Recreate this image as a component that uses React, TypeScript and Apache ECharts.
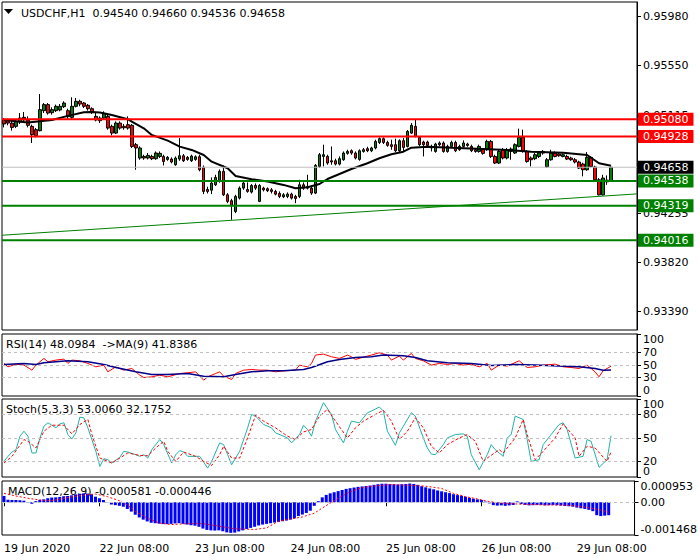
import React, { useEffect, useRef } from "react";
import * as echarts from "echarts";

const FONT = "DejaVu Sans";

// ---------- header texts ----------
const symbolName = "USDCHF,H1";
const lastOHLC = ["0.94540", "0.94660", "0.94536", "0.94658"];
const rsiTitle = "RSI(14) 48.0984\u00a0\u00a0->MA(9) 41.8386";
const stochTitle = "Stoch(5,3,3) 53.0060 32.1752";
const macdTitle = "MACD(12,26,9) -0.000581 -0.000446";

// ---------- time axis ----------
const barCount = 153;
const emptySlots = 6;
const tickBars = [0, 24, 48, 72, 96, 120, 144];
const tickLabels = ["19 Jun 2020", "22 Jun 08:00", "23 Jun 08:00", "24 Jun 08:00", "25 Jun 08:00", "26 Jun 08:00", "29 Jun 08:00"];

// ---------- price axis ----------
const priceMin = 0.93229;
const priceMax = 0.96109;
// 0.94685 sits under the last-price box in the reference, so it is not drawn
const priceTicks = [0.9339, 0.9382, 0.94255, 0.95115, 0.9555, 0.9598];

// ---------- levels ----------
const resistanceLevels = [0.9508, 0.94928];
const supportLevels = [0.94538, 0.94319, 0.94016];
const lastPrice = 0.94658;
const trendLine = [0.94061, 0.94424];

// ---------- OHLC (H1) ----------
const openP = [
  .95076, .95067, .95046, .95017, .95055, .95096, .95073, .95017, .94988, .94979,
  .95155, .95208, .95137, .95155, .95161, .95190, .95155, .95096, .95193, .95237,
  .95222, .95202, .95172, .95105, .95067, .95090, .95105, .95017, .94958, .95046,
  .95017, .95032, .95026, .94856, .94739, .94753, .94739, .94753, .94733, .94753,
  .94753, .94727, .94730, .94680, .94730, .94759, .94745, .94715, .94727, .94750,
  .94657, .94463, .94457, .94504, .94534, .94622, .94416, .94364, .94270, .94387,
  .94475, .94463, .94440, .94498, .94358, .94475, .94469, .94460, .94446, .94428,
  .94399, .94402, .94422, .94402, .94402, .94504, .94475, .94475, .94431, .94665,
  .94753, .94753, .94715, .94715, .94686, .94724, .94780, .94803, .94783, .94727,
  .94797, .94821, .94803, .94827, .94876, .94909, .94876, .94856, .94856, .94803,
  .94891, .94841, .94958, .95017, .94920, .94879, .94879, .94841, .94797, .94856,
  .94871, .94797, .94841, .94876, .94812, .94841, .94862, .94841, .94812, .94797,
  .94812, .94812, .94885, .94753, .94695, .94812, .94739, .94797, .94783, .94841,
  .94920, .94797, .94739, .94733, .94753, .94797, .94662, .94724, .94783, .94774,
  .94753, .94753, .94739, .94724, .94704, .94686, .94636, .94745, .94660, .94548,
  .94416, .94530, .94540,
];
const closeP = [
  .95038, .95046, .95008, .95061, .95090, .95073, .95026, .94944, .94935, .95164,
  .95208, .95134, .95164, .95193, .95193, .95222, .95102, .95193, .95237, .95213,
  .95193, .95172, .95143, .95073, .95090, .95131, .95002, .94958, .95046, .95002,
  .95005, .95002, .94841, .94827, .94827, .94739, .94762, .94733, .94783, .94780,
  .94709, .94745, .94704, .94739, .94759, .94715, .94727, .94756, .94750, .94636,
  .94446, .94446, .94519, .94569, .94622, .94416, .94358, .94323, .94402, .94475,
  .94519, .94446, .94498, .94475, .94498, .94460, .94452, .94446, .94422, .94402,
  .94416, .94422, .94387, .94384, .94504, .94475, .94490, .94431, .94674, .94768,
  .94768, .94695, .94704, .94686, .94733, .94783, .94797, .94783, .94739, .94803,
  .94812, .94803, .94827, .94885, .94909, .94876, .94850, .94841, .94803, .94891,
  .94832, .94973, .95026, .94929, .94856, .94856, .94850, .94827, .94862, .94871,
  .94797, .94841, .94876, .94803, .94841, .94871, .94850, .94803, .94797, .94841,
  .94780, .94885, .94753, .94695, .94797, .94739, .94812, .94818, .94856, .94920,
  .94797, .94709, .94724, .94768, .94783, .94783, .94724, .94783, .94753, .94759,
  .94768, .94730, .94724, .94704, .94651, .94636, .94745, .94665, .94548, .94416,
  .94563, .94545, .94658,
];
const lowP = [
  .95008, .95026, .94979, .95002, .95038, .95061, .95008, .94871, .94920, .94973,
  .95134, .95120, .95120, .95143, .95149, .95178, .95084, .95084, .95184, .95193,
  .95178, .95155, .95126, .95061, .95046, .95076, .94988, .94938, .94950, .94988,
  .94988, .94988, .94827, .94636, .94724, .94724, .94727, .94721, .94724, .94739,
  .94674, .94715, .94692, .94671, .94715, .94704, .94715, .94704, .94715, .94622,
  .94422, .94428, .94422, .94493, .94522, .94405, .94343, .94197, .94255, .94375,
  .94460, .94434, .94428, .94460, .94352, .94446, .94440, .94428, .94411, .94387,
  .94387, .94387, .94375, .94343, .94387, .94460, .94463, .94416, .94422, .94651,
  .94665, .94680, .94680, .94674, .94674, .94715, .94768, .94768, .94727, .94715,
  .94786, .94791, .94791, .94815, .94862, .94862, .94838, .94812, .94791, .94791,
  .94797, .94832, .94950, .94920, .94844, .94753, .94838, .94797, .94786, .94844,
  .94786, .94786, .94832, .94791, .94803, .94832, .94838, .94791, .94786, .94786,
  .94768, .94803, .94739, .94686, .94686, .94727, .94727, .94724, .94774, .94832,
  .94786, .94698, .94665, .94721, .94739, .94768, .94651, .94715, .94745, .94750,
  .94745, .94721, .94715, .94692, .94642, .94578, .94627, .94657, .94539, .94411,
  .94411, .94504, .94536,
];
const highP = [
  .95090, .95084, .95067, .95076, .95134, .95143, .95105, .95032, .95002, .95301,
  .95222, .95222, .95184, .95208, .95213, .95237, .95172, .95272, .95266, .95251,
  .95231, .95213, .95184, .95134, .95105, .95149, .95126, .95032, .95061, .95061,
  .95038, .95105, .95038, .94871, .94841, .94768, .94783, .94768, .94797, .94797,
  .94768, .94756, .94745, .94753, .94914, .94774, .94756, .94768, .94762, .94768,
  .94674, .94487, .94569, .94592, .94639, .94674, .94431, .94381, .94416, .94490,
  .94534, .94525, .94510, .94516, .94510, .94487, .94481, .94475, .94460, .94446,
  .94431, .94437, .94434, .94416, .94548, .94525, .94592, .94490, .94686, .94783,
  .94856, .94768, .94841, .94733, .94753, .94797, .94812, .94815, .94797, .94815,
  .94827, .94838, .94838, .94900, .94920, .94920, .94891, .94900, .94909, .94903,
  .94914, .94985, .95046, .95076, .94932, .94891, .94891, .94856, .94873, .94885,
  .94885, .94856, .94891, .94891, .94856, .94894, .94873, .94856, .94827, .94856,
  .94827, .94900, .94897, .94768, .94809, .94827, .94827, .94832, .94868, .94997,
  .94988, .94809, .94753, .94783, .94797, .94809, .94739, .94812, .94797, .94786,
  .94780, .94768, .94750, .94739, .94715, .94698, .94791, .94756, .94671, .94563,
  .94592, .94586, .94660,
];

// moving average on price, [bar, value]
const maPoints = [
  [0, 0.95073], [6, 0.9505], [12, 0.95073], [16, 0.95109], [20, 0.95141], [22, 0.95144], [24, 0.95138],
  [27, 0.95117], [31, 0.9508], [32, 0.95058], [35, 0.95], [37, 0.94942], [41, 0.94892], [44, 0.94839],
  [47, 0.9481], [50, 0.94766], [52, 0.94707], [56, 0.94649], [58, 0.94582], [62, 0.94553], [66, 0.94532],
  [70, 0.94503], [73, 0.94474], [76, 0.94483], [79, 0.94511], [81, 0.94555], [84, 0.94599], [87, 0.94643],
  [91, 0.94693], [94, 0.94737], [97, 0.94772], [100, 0.94795], [102, 0.9483], [106, 0.94839], [112, 0.9483],
  [120, 0.94819], [126, 0.9481], [132, 0.94795], [140, 0.94786], [146, 0.94766], [149, 0.94693], [152, 0.94672],
];

// RSI(14) and its MA(9)
const rsiPoints = [
  [0, 52.5], [1, 47.1], [3, 51.4], [5, 49.8], [7, 41.7], [8, 49.8], [10, 60.6], [11, 55.2], [13, 57.9], [15, 59.5],
  [16, 52.5], [17, 57.9], [19, 56.8], [21, 52.5], [23, 47.1], [25, 49.8], [26, 39], [28, 47.1], [30, 41.7], [32, 44.4],
  [34, 33.6], [35, 29.8], [37, 30.9], [39, 33.6], [41, 30.9], [44, 36.3], [46, 37.4], [48, 39], [50, 25.5], [51, 30.9],
  [53, 36.3], [54, 39], [55, 32], [57, 26.6], [58, 36.3], [60, 41.7], [62, 42.8], [64, 41.7], [66, 41.7], [68, 39],
  [70, 40.6], [73, 41.7], [74, 49.8], [76, 47.1], [77, 52.5], [78, 66], [80, 67.6], [82, 63.3], [84, 60.6], [86, 66],
  [87, 63.3], [88, 59], [91, 64.4], [92, 66], [94, 69.8], [96, 66], [97, 57.9], [99, 64.4], [100, 57.9], [102, 68.7],
  [103, 60.6], [105, 56.8], [107, 49.8], [109, 52.5], [111, 50.9], [113, 52.5], [115, 49.8], [117, 51.4], [119, 47.1],
  [121, 52.5], [122, 41.7], [124, 49.8], [126, 48.2], [129, 56.8], [131, 46], [133, 47.1], [135, 49.8], [138, 51.4],
  [140, 47.1], [142, 46], [144, 44.4], [146, 49.8], [148, 39], [149, 31], [150, 40.6], [152, 48.1],
];
const rsiMaPoints = [
  [0, 50.9], [5, 52.5], [8, 50.9], [10, 53.6], [16, 56.8], [21, 55.2], [25, 50.9], [28, 46], [33, 39], [37, 34.7],
  [41, 34.7], [46, 36.3], [50, 32], [55, 30.9], [58, 34.7], [62, 39], [66, 40.6], [70, 40.6], [75, 42.8], [77, 46],
  [81, 55.2], [84, 59], [88, 62.2], [92, 63.3], [95, 66], [100, 64.9], [103, 62.2], [106, 56.8], [111, 53.6],
  [117, 52.5], [122, 49.3], [128, 50.9], [133, 49.8], [139, 48.2], [144, 47.1], [148, 44.4], [150, 41.7], [152, 41.8],
];
const rsiLevels = [70, 50, 30];
const rsiTicks = [0, 30, 50, 70, 100];

// Stochastic(5,3,3)
const stochK = [
  [0, 20], [1, 26.5], [2, 32], [3, 35], [4, 52.3], [5, 58.7], [6, 52.3], [7, 30.8], [8, 30.8], [9, 50.1], [10, 65.2],
  [11, 69.5], [12, 66.4], [13, 63], [14, 68.2], [15, 69.5], [16, 54.4], [17, 48.8], [18, 56.6], [19, 76.8], [20, 75.9],
  [21, 63], [23, 32.9], [24, 13.6], [25, 23.4], [26, 22.2], [27, 17.9], [29, 25.2], [30, 32.9], [31, 32], [33, 28.6],
  [34, 26.5], [35, 28.6], [36, 24.3], [37, 35], [39, 48], [40, 41.5], [42, 17.9], [43, 28.6], [44, 33.8], [45, 32],
  [46, 26.5], [48, 26.5], [49, 26.5], [51, 11.4], [52, 20], [54, 43.7], [55, 41.5], [56, 28.6], [57, 15.7], [59, 32.9],
  [61, 63], [62, 80.2], [63, 78.1], [65, 67.3], [67, 63], [68, 56.6], [71, 50.1], [72, 43.7], [74, 54.4], [75, 66.4],
  [76, 60.9], [77, 52.3], [78, 71.6], [80, 95.3], [82, 80.2], [83, 60.9], [85, 43.7], [86, 58.7], [87, 71.6], [89, 69.5],
  [91, 82.4], [92, 84.5], [94, 89.7], [95, 84.5], [96, 58.7], [98, 40.6], [99, 56.6], [100, 65.2], [102, 82.4],
  [103, 78.1], [105, 50.1], [106, 37.2], [107, 29.5], [108, 28.6], [110, 41.5], [111, 50.1], [113, 54.4], [115, 55.3],
  [116, 52.3], [117, 28.6], [119, 9.3], [121, 28.6], [122, 41.5], [123, 35], [125, 26.5], [126, 50.1], [127, 54.4],
  [128, 78.1], [130, 73.8], [131, 48], [132, 20], [134, 22.2], [135, 41.5], [137, 54.4], [139, 67.3], [140, 69.5],
  [141, 60.9], [143, 24.3], [145, 26.5], [146, 48], [147, 45.8], [149, 12.3], [151, 22.2], [152, 53],
];
const stochD = [
  [0, 17.9], [2, 26.5], [5, 48], [6, 45.8], [8, 37.2], [10, 58.7], [12, 66.4], [15, 66.4], [17, 55.3], [19, 67.3],
  [21, 73.8], [22, 54.4], [24, 24.3], [27, 17.9], [29, 24.3], [31, 30.8], [34, 27.7], [36, 27.3], [38, 37.2], [40, 45.8],
  [41, 32.9], [43, 20], [45, 32], [48, 26.5], [50, 20], [52, 14.8], [54, 28.6], [55, 39.4], [57, 24.3], [59, 24.3],
  [61, 50.1], [63, 79.3], [65, 71.6], [68, 63], [71, 52.3], [73, 48], [75, 57.8], [77, 60.9], [79, 78.1], [81, 86.7],
  [83, 71.6], [86, 50.1], [88, 63], [90, 71.6], [93, 80.2], [95, 85.4], [97, 71.6], [99, 48], [101, 58.7], [103, 75.9],
  [105, 63], [107, 39.4], [109, 30.8], [111, 41.5], [114, 50.1], [116, 54.4], [118, 45.8], [120, 20], [121, 24.3],
  [124, 35], [125, 30.8], [128, 50.1], [130, 73.8], [131, 54.4], [133, 22.2], [135, 32.9], [138, 50.1], [140, 68.2],
  [143, 50.1], [144, 26.5], [146, 39.4], [148, 37.2], [151, 20], [152, 32.2],
];
const stochLevels = [80, 50, 20];
const stochLevelTicks = [20, 50, 80];
const stochEdgeTicks = [0, 100];

// MACD(12,26,9)
const macdMin = -0.001468;
const macdMax = 0.000953;
const macdMain = [
  0.00028, 0.00011, 0.0001, 0.0001, 0.00009, 0.00007, -0.00003, -0.00007, 0.00005, 0.00011,
  0.00013, 0.00018, 0.00021, 0.00022, 0.00024, 0.00027, 0.00028, 0.00031, 0.00035, 0.00038,
  0.0004, 0.00039, 0.00036, 0.00025, 0.00018, 0.0001, 0.00001, -0.0001, -0.00013, -0.00016,
  -0.0002, -0.0003, -0.00042, -0.00056, -0.00068, -0.00078, -0.00086, -0.00092, -0.00094, -0.00096,
  -0.00098, -0.00098, -0.00097, -0.00095, -0.00094, -0.00097, -0.001, -0.00103, -0.00105, -0.0011,
  -0.00118, -0.00124, -0.00126, -0.00127, -0.00126, -0.0013, -0.00135, -0.00137, -0.00136, -0.00131,
  -0.00126, -0.0012, -0.00115, -0.0011, -0.00104, -0.001, -0.00097, -0.00094, -0.00091, -0.00088,
  -0.00085, -0.00082, -0.00078, -0.00072, -0.00062, -0.00055, -0.00048, -0.00038, -0.00016, 0.00005,
  0.00022, 0.00033, 0.0004, 0.00045, 0.0005, 0.00055, 0.0006, 0.00063, 0.00066, 0.00069,
  0.00071, 0.00073, 0.00075, 0.00078, 0.00081, 0.00083, 0.00083, 0.00082, 0.00081, 0.0008,
  0.00081, 0.00082, 0.00084, 0.00082, 0.00078, 0.00072, 0.00067, 0.00062, 0.00058, 0.00053,
  0.00049, 0.00045, 0.00041, 0.00036, 0.00032, 0.00029, 0.00025, 0.0002, 0.00016, 0.00013,
  0.0001, 0.00003, -0.00005, -0.00013, -0.00015, -0.00014, -0.00016, -0.00014, -0.00012, 0.00004,
  -0.00008, -0.00012, -0.00014, -0.00013, -0.00012, -0.00012, -0.00014, -0.00013, -0.00012, -0.00013,
  -0.00015, -0.00017, -0.00018, -0.0002, -0.00024, -0.00027, -0.0003, -0.00034, -0.0004, -0.00058,
  -0.00062, -0.0006, -0.000581,
];
const macdSignal = [
  [0, 0.0004], [3, 0.00028], [6, 0.00018], [9, 0.0001], [12, 0.00007], [15, 0.00018], [20, 0.00032], [23, 0.00037],
  [26, 0.00025], [29, 0.00007], [31, -0.00012], [33, -0.00041], [36, -0.00071], [39, -0.00093], [42, -0.001],
  [46, -0.00096], [50, -0.00096], [54, -0.00107], [58, -0.00119], [63, -0.00122], [66, -0.00115], [69, -0.00085],
  [72, -0.00075], [75, -0.00066], [78, -0.00049], [80, -0.00026], [82, -0.00004], [84, 0.00018], [87, 0.00047],
  [90, 0.00066], [93, 0.00073], [97, 0.00079], [102, 0.00076], [106, 0.00072], [110, 0.00062], [113, 0.0004],
  [116, 0.00025], [119, 0.00015], [122, 0.00003], [125, -0.00004], [128, -0.00007], [132, -0.0001], [136, -0.00012],
  [141, -0.00013], [145, -0.00019], [149, -0.00031], [152, -0.000446],
];
const macdTicks = [macdMin, 0, macdMax];

// ---------- chart ----------
const categories = Array.from({ length: barCount + emptySlots }, (_, i) => String(i));
const candleData = openP.map((o, i) => [o, closeP[i], lowP[i], highP[i]]);

const RED = "#FF0000";
const GREEN = "#008000";
const GRIDS = [
  { left: 2, top: 2, width: 635, height: 328 },
  { left: 2, top: 334, width: 635, height: 62 },
  { left: 2, top: 399, width: 635, height: 78 },
  { left: 2, top: 481, width: 635, height: 54 },
];

const txt = { fontFamily: FONT, fontSize: 11, color: "#000" };

function rightAxis(
  gridIndex: number,
  min: number,
  max: number,
  values: number[],
  formatter: (v: number) => string,
  edgeAligned: boolean,
  showLine = true
) {
  return {
    type: "value",
    gridIndex,
    position: "right",
    min,
    max,
    axisLine: { show: showLine, onZero: false, lineStyle: { color: "#000", width: 1 } },
    axisTick: { show: true, customValues: values, length: 4, lineStyle: { color: "#000" } },
    axisLabel: {
      ...txt,
      customValues: values,
      formatter,
      margin: 6,
      hideOverlap: false,
      showMinLabel: true,
      showMaxLabel: true,
      ...(edgeAligned ? { verticalAlignMinLabel: "bottom", verticalAlignMaxLabel: "top" } : {}),
    },
    splitLine: { show: false },
  };
}

function levelSeries(v: number, lineColor: string, boxColor: string, width: number) {
  return {
    type: "line",
    xAxisIndex: 4,
    yAxisIndex: 0,
    data: [[0, v], [1, v]],
    showSymbol: false,
    silent: true,
    lineStyle: { color: lineColor, width, type: "solid" },
    endLabel: {
      show: true,
      distance: 1,
      formatter: () => v.toFixed(5),
      backgroundColor: boxColor,
      color: "#fff",
      fontFamily: FONT,
      fontSize: 11,
      lineHeight: 13,
      padding: [0, 5, 0, 5],
    },
    z: 4,
  };
}

function dashedLevels(values: number[]) {
  return {
    symbol: "none",
    silent: true,
    label: { show: false },
    lineStyle: { color: "#C0C0C0", type: [3, 3], width: 1 },
    data: values.map((v) => ({ yAxis: v })),
  };
}

function buildOption() {
  const catAxis = (gridIndex: number, last: boolean) => ({
    type: "category",
    gridIndex,
    data: categories,
    boundaryGap: true,
    axisLine: { show: false },
    axisTick: last
      ? { show: true, alignWithLabel: true, interval: (i: number) => tickBars.includes(i), length: 4, lineStyle: { color: "#000" } }
      : { show: false },
    axisLabel: last
      ? {
          ...txt,
          show: true,
          align: "left",
          margin: 8,
          interval: (i: number) => tickBars.includes(i),
          formatter: (_v: string, i: number) => {
            const k = tickBars.indexOf(i);
            return k >= 0 ? tickLabels[k] : "";
          },
        }
      : { show: false },
    splitLine: { show: false },
  });

  return {
    animation: false,
    backgroundColor: "#fff",
    grid: GRIDS.map((g) => ({ ...g, show: true, borderColor: "#000", borderWidth: 1, backgroundColor: "transparent" })),
    xAxis: [
      catAxis(0, false),
      catAxis(1, false),
      catAxis(2, false),
      catAxis(3, true),
      { type: "value", gridIndex: 0, min: 0, max: 1, show: false },
    ],
    yAxis: [
      rightAxis(0, priceMin, priceMax, priceTicks, (v) => v.toFixed(5), false),
      rightAxis(1, 0, 100, rsiTicks, (v) => String(v), true),
      rightAxis(2, 0, 100, stochLevelTicks, (v) => String(v), false),
      rightAxis(3, macdMin, macdMax, macdTicks, (v) => (v === 0 ? "0.00" : v.toFixed(6)), true),
      rightAxis(2, 0, 100, stochEdgeTicks, (v) => String(v), true, false),
    ],
    series: [
      {
        type: "line",
        xAxisIndex: 4,
        yAxisIndex: 0,
        data: [[0, trendLine[0]], [1, trendLine[1]]],
        showSymbol: false,
        silent: true,
        lineStyle: { color: GREEN, width: 1 },
        z: 1,
      },
      {
        type: "candlestick",
        xAxisIndex: 0,
        yAxisIndex: 0,
        data: candleData,
        barWidth: 3,
        itemStyle: { color: GREEN, color0: RED, borderColor: "#000", borderColor0: "#000", borderWidth: 1 },
        z: 2,
      },
      {
        type: "line",
        xAxisIndex: 0,
        yAxisIndex: 0,
        data: maPoints,
        showSymbol: false,
        silent: true,
        lineStyle: { color: "#000", width: 2 },
        z: 3,
      },
      ...resistanceLevels.map((v) => levelSeries(v, RED, RED, 2)),
      levelSeries(lastPrice, "#C0C0C0", "#000", 1),
      ...supportLevels.map((v) => levelSeries(v, GREEN, GREEN, 2)),
      {
        type: "line",
        xAxisIndex: 1,
        yAxisIndex: 1,
        data: rsiPoints,
        showSymbol: false,
        lineStyle: { color: RED, width: 1 },
        markLine: dashedLevels(rsiLevels),
      },
      {
        type: "line",
        xAxisIndex: 1,
        yAxisIndex: 1,
        data: rsiMaPoints,
        showSymbol: false,
        lineStyle: { color: "#00008B", width: 1.5 },
      },
      {
        type: "line",
        xAxisIndex: 2,
        yAxisIndex: 2,
        data: stochK,
        showSymbol: false,
        lineStyle: { color: "#20B2AA", width: 1 },
        markLine: dashedLevels(stochLevels),
      },
      {
        type: "line",
        xAxisIndex: 2,
        yAxisIndex: 2,
        data: stochD,
        showSymbol: false,
        lineStyle: { color: RED, width: 1, type: [3, 2] },
      },
      {
        type: "bar",
        xAxisIndex: 3,
        yAxisIndex: 3,
        data: macdMain,
        barWidth: 3,
        itemStyle: { color: "#0000FF" },
        markLine: dashedLevels([0]),
      },
      {
        type: "line",
        xAxisIndex: 3,
        yAxisIndex: 3,
        data: macdSignal,
        showSymbol: false,
        lineStyle: { color: RED, width: 1, type: [2, 2] },
        z: 3,
      },
    ],
    graphic: {
      elements: [
        { type: "polygon", shape: { points: [[4, 9], [13, 9], [8.5, 14]] }, style: { fill: "#000" }, silent: true },
        {
          type: "text",
          x: 21,
          y: 13,
          silent: true,
          style: { text: symbolName + "\u00a0\u00a0" + lastOHLC.join(" "), fontFamily: FONT, fontSize: 11, fill: "#000", verticalAlign: "middle" },
        },
        { type: "text", x: 6, y: 344, silent: true, style: { text: rsiTitle, fontFamily: FONT, fontSize: 11, fill: "#000", verticalAlign: "middle" } },
        { type: "text", x: 6, y: 409, silent: true, style: { text: stochTitle, fontFamily: FONT, fontSize: 11, fill: "#000", verticalAlign: "middle" } },
        { type: "text", x: 8, y: 491, silent: true, style: { text: macdTitle, fontFamily: FONT, fontSize: 11, fill: "#000", verticalAlign: "middle" } },
      ],
    },
  };
}

export default function App() {
  const ref = useRef<HTMLDivElement>(null);
  useEffect(() => {
    if (!ref.current) return;
    const chart = echarts.init(ref.current, undefined, { renderer: "svg" });
    chart.setOption(buildOption() as any);
    return () => chart.dispose();
  }, []);
  return <div ref={ref} style={{ position: "fixed", left: 0, top: 0, width: 700, height: 560, background: "#fff" }} />;
}
